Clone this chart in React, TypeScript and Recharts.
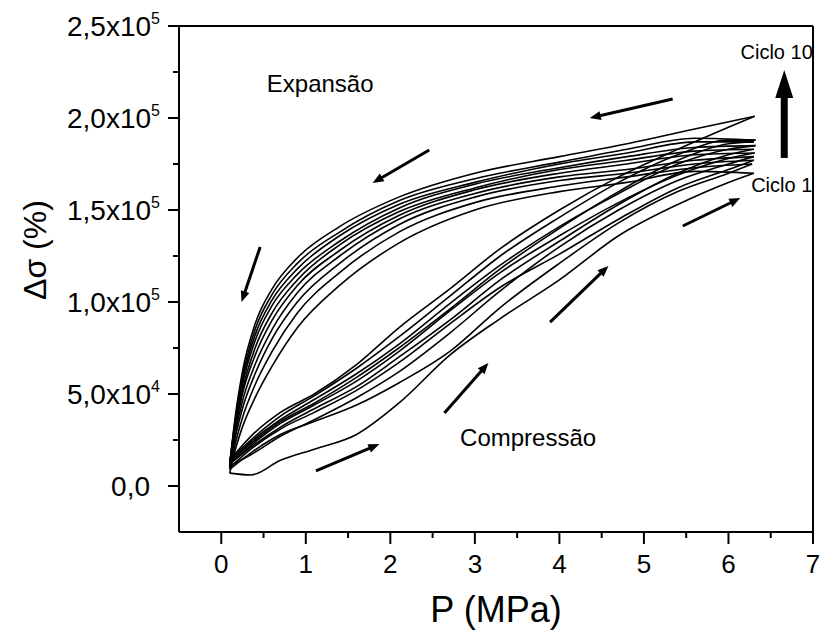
import React from 'react';
import { LineChart, Line, XAxis, YAxis, ReferenceLine, ReferenceDot, Label } from 'recharts';

const FONT = 'Liberation Sans, Arial, Helvetica, sans-serif';

// pressure grid (MPa) for each branch
const compX = [0.1, 0.35, 0.7, 1.1, 1.6, 2.1, 2.7, 3.3, 4.0, 4.7, 5.4, 6.0];
const expX = [0.1, 0.15, 0.25, 0.4, 0.6, 0.9, 1.4, 2.1, 3.0, 4.0, 4.8, 5.6];

// turning point of each cycle (x in MPa, y in 10^3)
const tipX = [6.3, 6.28, 6.3, 6.3, 6.31, 6.3, 6.32, 6.3, 6.32, 6.31];
const tipY = [170, 175, 177, 179, 181, 183, 185, 187, 188, 201];

// compression branch, ciclo 1 .. ciclo 10 (units of 10^3)
const compY = [
  [7, 6, 14, 20, 28, 45, 71, 91, 112, 136, 153, 165],
  [9, 18, 28, 35, 44, 56, 73, 97, 121, 143, 160, 170],
  [10, 20, 31, 40, 52, 67, 88, 108, 126, 145, 162, 172],
  [11, 17, 27, 36, 48, 62, 83, 106, 130, 150, 166, 175],
  [12, 22, 34, 44, 57, 73, 95, 116, 136, 154, 169, 178],
  [12, 21, 32, 42, 54, 70, 90, 112, 133, 153, 170, 180],
  [13, 24, 36, 47, 61, 77, 99, 120, 141, 159, 175, 183],
  [13, 23, 35, 45, 59, 75, 96, 118, 140, 160, 177, 186],
  [14, 25, 38, 49, 64, 81, 103, 125, 146, 165, 180, 188],
  [14, 27, 40, 50, 66, 86, 107, 129, 150, 168, 183, 195],
];

// expansion branch, ciclo 1 .. ciclo 10 (units of 10^3)
const expY = [
  [7, 17, 32, 48, 65, 86, 109, 132, 150, 160, 165, 171],
  [9, 20, 37, 55, 73, 94, 116, 138, 154, 163, 168, 173],
  [10, 23, 42, 61, 80, 100, 121, 142, 157, 166, 170, 175],
  [11, 25, 46, 66, 85, 105, 125, 145, 159, 168, 172, 177],
  [11, 27, 50, 71, 90, 109, 128, 147, 161, 170, 175, 180],
  [12, 28, 52, 75, 94, 112, 131, 149, 162, 172, 177, 182],
  [12, 29, 55, 79, 98, 115, 133, 151, 164, 173, 179, 184],
  [12, 30, 57, 82, 101, 118, 136, 153, 165, 175, 181, 187],
  [12, 31, 59, 85, 104, 121, 138, 155, 167, 176, 183, 189],
  [10, 32, 62, 88, 107, 124, 141, 157, 170, 179, 186, 194],
];

const xTicks = [0, 0.5, 1, 1.5, 2, 2.5, 3, 3.5, 4, 4.5, 5, 5.5, 6, 6.5, 7];
const yTicks = [0, 25000, 50000, 75000, 100000, 125000, 150000, 175000, 200000, 225000, 250000];
const yTickLabels = [
  { v: 0, m: '0,0', e: '' },
  { v: 50000, m: '5,0x10', e: '4' },
  { v: 100000, m: '1,0x10', e: '5' },
  { v: 150000, m: '1,5x10', e: '5' },
  { v: 200000, m: '2,0x10', e: '5' },
  { v: 250000, m: '2,5x10', e: '5' },
];

// direction arrows (from -> to)
const arrows = [
  { x1: 5.34, y1: 210300, x2: 4.36, y2: 200000 },
  { x1: 2.46, y1: 182600, x2: 1.79, y2: 164700 },
  { x1: 0.46, y1: 129900, x2: 0.24, y2: 100000 },
  { x1: 1.12, y1: 8200, x2: 1.87, y2: 22800 },
  { x1: 2.64, y1: 39700, x2: 3.16, y2: 66900 },
  { x1: 3.89, y1: 89100, x2: 4.58, y2: 119600 },
  { x1: 5.46, y1: 141300, x2: 6.14, y2: 156500 },
];
const bigArrow = { x1: 6.66, y1: 178300, x2: 6.66, y2: 226100 };

const notes = [
  { text: 'Expansão', x: 1.17, y: 219000, size: 24 },
  { text: 'Compressão', x: 3.63, y: 26600, size: 24 },
  { text: 'Ciclo 10', x: 6.57, y: 235900, size: 20 },
  { text: 'Ciclo 1', x: 6.63, y: 163600, size: 20 },
];

const cycles = tipX.map((tx, i) => ({
  comp: [...compX.map((x, j) => ({ x, y: compY[i][j] * 1000 })), { x: tx, y: tipY[i] * 1000 }],
  exp: [...expX.map((x, j) => ({ x, y: expY[i][j] * 1000 })), { x: tx, y: tipY[i] * 1000 }],
}));

const XTick = (props: any) => {
  const { x, y, payload } = props;
  const major = Number.isInteger(payload.value);
  return (
    <g>
      <line x1={x} x2={x} y1={y} y2={y + (major ? 12 : 6)} stroke="#000" strokeWidth={2} />
      {major && (
        <text x={x} y={y + 41} textAnchor="middle" fontSize={26} fontFamily={FONT} fill="#000">
          {payload.value}
        </text>
      )}
    </g>
  );
};

const YTick = (props: any) => {
  const { x, y, payload } = props;
  const lbl = yTickLabels.find((t) => t.v === payload.value);
  return (
    <g>
      <line x1={x - (lbl ? 11 : 6)} x2={x} y1={y} y2={y} stroke="#000" strokeWidth={2} />
      {lbl && (
        <text x={x - (lbl.e ? 19 : 29)} y={y + 10} textAnchor="end" fontSize={28} fontFamily={FONT} fill="#000">
          {lbl.m}
          {lbl.e && <tspan dy={-12} fontSize={16}>{lbl.e}</tspan>}
        </text>
      )}
    </g>
  );
};

const arrowShape = (w: number, head: number, half: number) => (props: any) => {
  const { x1, y1, x2, y2 } = props;
  const dx = x2 - x1;
  const dy = y2 - y1;
  const len = Math.hypot(dx, dy) || 1;
  const ux = dx / len;
  const uy = dy / len;
  const bx = x2 - ux * head;
  const by = y2 - uy * head;
  const px = -uy * half;
  const py = ux * half;
  return (
    <g>
      <line x1={x1} y1={y1} x2={bx + ux * 2} y2={by + uy * 2} stroke="#000" strokeWidth={w} />
      <polygon points={`${x2},${y2} ${bx + px},${by + py} ${bx - px},${by - py}`} fill="#000" />
    </g>
  );
};

export default function App() {
  return (
    <div style={{ position: 'absolute', left: 0, top: 0, width: 824, height: 642, background: '#fff' }}>
      <LineChart width={824} height={642} margin={{ top: 26, right: 11, bottom: 0, left: 0 }}>
        <XAxis
          type="number"
          dataKey="x"
          domain={[-0.5, 7]}
          ticks={xTicks}
          interval={0}
          allowDataOverflow
          tick={<XTick />}
          tickLine={false}
          tickSize={0}
          tickMargin={0}
          axisLine={{ stroke: '#000', strokeWidth: 2 }}
          height={110}
        >
          <Label
            content={(p: any) => (
              <text
                x={p.viewBox.x + p.viewBox.width / 2}
                y={p.viewBox.y + 90}
                textAnchor="middle"
                fontSize={36}
                fontFamily={FONT}
                fill="#000"
              >
                P (MPa)
              </text>
            )}
          />
        </XAxis>
        <YAxis
          type="number"
          domain={[-25000, 250000]}
          ticks={yTicks}
          interval={0}
          allowDataOverflow
          tick={<YTick />}
          tickLine={false}
          tickSize={0}
          tickMargin={0}
          axisLine={{ stroke: '#000', strokeWidth: 2 }}
          width={179}
        >
          <Label
            content={() => (
              <text
                x={35}
                y={250}
                transform="rotate(-90, 35, 250)"
                textAnchor="middle"
                dominantBaseline="central"
                fontSize={32}
                fontFamily={FONT}
                fill="#000"
              >
                Δσ (%)
              </text>
            )}
          />
        </YAxis>

        <ReferenceLine y={250000} stroke="#000" strokeWidth={2} />
        <ReferenceLine x={7} stroke="#000" strokeWidth={2} />

        {cycles.map((c, i) => (
          <Line
            key={'comp' + i}
            data={c.comp}
            dataKey="y"
            type="monotone"
            stroke="#000"
            strokeWidth={1.6}
            dot={false}
            activeDot={false}
            isAnimationActive={false}
          />
        ))}
        {cycles.map((c, i) => (
          <Line
            key={'exp' + i}
            data={c.exp}
            dataKey="y"
            type="monotone"
            stroke="#000"
            strokeWidth={1.6}
            dot={false}
            activeDot={false}
            isAnimationActive={false}
          />
        ))}

        {arrows.map((a, i) => (
          <ReferenceLine
            key={'arr' + i}
            segment={[{ x: a.x1, y: a.y1 }, { x: a.x2, y: a.y2 }]}
            shape={arrowShape(3, 11, 4.5)}
          />
        ))}
        <ReferenceLine
          segment={[{ x: bigArrow.x1, y: bigArrow.y1 }, { x: bigArrow.x2, y: bigArrow.y2 }]}
          shape={arrowShape(7, 28, 9)}
        />

        {notes.map((n, i) => (
          <ReferenceDot
            key={'note' + i}
            x={n.x}
            y={n.y}
            r={0}
            shape={(p: any) => (
              <text
                x={p.cx}
                y={p.cy}
                textAnchor="middle"
                dominantBaseline="central"
                fontSize={n.size}
                fontFamily={FONT}
                fill="#000"
              >
                {n.text}
              </text>
            )}
          />
        ))}
      </LineChart>
    </div>
  );
}
